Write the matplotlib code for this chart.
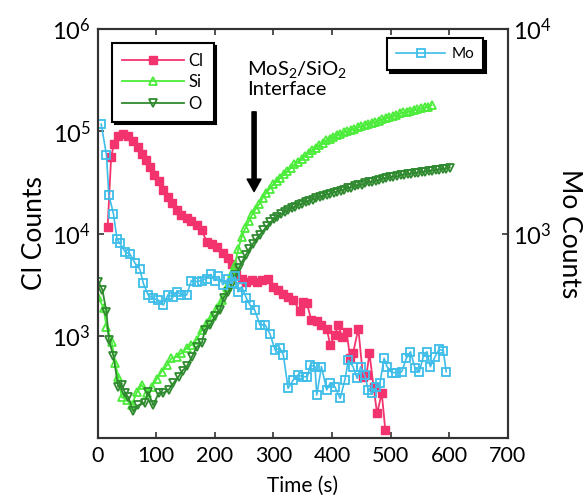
import matplotlib.pyplot as plt
import numpy as np
from matplotlib.ticker import NullLocator, FixedLocator

plt.rcParams['font.family'] = ['Lato', 'DejaVu Sans']
plt.rcParams['mathtext.fontset'] = 'custom'
plt.rcParams['mathtext.rm'] = 'Lato'
plt.rcParams['mathtext.it'] = 'Lato:italic'
plt.rcParams['mathtext.bf'] = 'Lato:bold'

# valores (exponente log10 de las cuentas)
cl_t = [17, 23, 28, 35, 44, 52, 61, 68, 75, 82, 89, 97, 104, 112, 120, 127, 135, 143, 152, 160,
        169, 178, 186, 195, 203, 214, 223, 230, 237, 246, 254, 263, 272, 280, 291, 300, 308, 317, 325, 334,
        345, 351, 357, 365, 374, 382, 391, 397, 405, 411, 417, 425, 431, 436, 445, 453, 459, 464, 471, 477,
        485, 491]
cl_exp = [4.06, 4.75, 4.88, 4.95, 4.97, 4.95, 4.90, 4.85, 4.78, 4.72, 4.65, 4.57, 4.51, 4.43, 4.36, 4.30, 4.23, 4.18, 4.15, 4.12,
          4.08, 4.03, 3.92, 3.90, 3.87, 3.81, 3.76, 3.70, 3.59, 3.56, 3.53, 3.55, 3.53, 3.55, 3.56, 3.48, 3.45, 3.41, 3.38, 3.35,
          3.24, 3.33, 3.32, 3.15, 3.14, 3.11, 3.07, 2.91, 3.01, 3.11, 2.99, 3.04, 2.78, 2.83, 3.07, 2.60, 2.62, 2.83, 2.50, 2.24,
          2.44, 2.08]

si_t = [1, 10, 15, 24, 30, 35, 41, 50, 58, 67, 75, 84, 92, 101, 109, 118, 126, 135, 143, 152,
        160, 169, 178, 186, 195, 203, 212, 220, 229,
        234, 240, 246, 252, 258, 264, 270, 276, 282, 288, 294, 300, 306, 312, 318, 324, 330, 336, 342, 348,
        354, 360, 366, 372, 378, 384, 390, 396, 402, 408, 414, 420, 426, 432, 438, 444, 450, 456, 462, 468,
        474, 480, 486, 492, 498, 504, 510, 516, 522, 528, 534, 540, 546, 552, 558, 564, 570]
si_exp = [3.38, 3.27, 3.09, 2.94, 2.73, 2.60, 2.40, 2.37, 2.32, 2.45, 2.52, 2.44, 2.50, 2.58, 2.65, 2.71, 2.78, 2.795, 2.83, 2.88,
          2.91, 2.96, 3.06, 3.12, 3.19, 3.27, 3.35, 3.48, 3.61,
          3.69, 3.85, 3.97, 4.05, 4.12, 4.19, 4.24, 4.29, 4.35, 4.40, 4.44, 4.48, 4.51, 4.545, 4.58, 4.61, 4.64, 4.675, 4.70, 4.73,
          4.76, 4.785, 4.815, 4.835, 4.865, 4.885, 4.91, 4.925, 4.945, 4.965, 4.975, 4.99, 5.00, 5.015, 5.025, 5.04, 5.05, 5.06, 5.075, 5.085,
          5.09, 5.105, 5.12, 5.13, 5.14, 5.15, 5.16, 5.175, 5.185, 5.19, 5.20, 5.21, 5.215, 5.225, 5.235, 5.24, 5.255]

o_t = [1, 8, 15, 19, 27, 35, 41, 47, 52, 61, 69, 80, 86, 95, 104, 112, 121, 129, 138, 145,
       152, 161, 169, 178, 183, 192, 200, 209, 215, 223, 229,
       235, 241, 247, 253, 259, 265, 271, 277, 283, 289, 295, 301, 307, 313, 319, 325, 331, 337, 343, 349,
       355, 361, 367, 373, 379, 385, 391, 397, 403, 409, 415, 421, 427, 433, 439, 445, 451, 457, 463, 469,
       475, 481, 487, 493, 499, 505, 511, 517, 523, 529, 535, 541, 547, 553, 559, 565, 571, 577, 583, 589,
       595, 601]
o_exp = [3.53, 3.45, 3.235, 2.96, 2.80, 2.50, 2.52, 2.44, 2.40, 2.26, 2.32, 2.34, 2.45, 2.32, 2.44, 2.44, 2.47, 2.535, 2.60, 2.66,
         2.70, 2.795, 2.89, 2.93, 3.06, 3.105, 3.19, 3.25, 3.37, 3.43, 3.51,
         3.59, 3.66, 3.73, 3.79, 3.85, 3.90, 3.95, 3.99, 4.03, 4.07, 4.11, 4.14, 4.165, 4.19, 4.21, 4.23, 4.245, 4.26, 4.28, 4.29,
         4.305, 4.32, 4.33, 4.345, 4.355, 4.365, 4.38, 4.39, 4.40, 4.41, 4.42, 4.43, 4.445, 4.45, 4.46, 4.47, 4.475, 4.49, 4.50, 4.505,
         4.515, 4.525, 4.535, 4.54, 4.55, 4.555, 4.56, 4.57, 4.575, 4.58, 4.585, 4.59, 4.595, 4.60, 4.605, 4.61, 4.615, 4.62, 4.625, 4.63,
         4.635, 4.645]

mo_t = [6, 15, 19, 27, 33, 38, 47, 55, 64, 72, 78, 86, 95, 103, 112, 120, 129, 135, 143, 152,
        160, 169, 178, 186, 193, 200, 206, 214, 223, 229, 234, 240, 246, 254, 260, 268, 277, 286, 294, 303,
        311, 317, 325, 334, 342, 350, 358, 363, 371, 374, 382, 391, 397, 405, 414, 422, 428, 436, 443, 449,
        456, 462, 469, 476, 482, 489, 494, 502, 510, 519, 527, 534, 542, 549, 556, 562, 568, 576, 583, 590,
        595]
mo_exp = [3.535, 3.384, 3.19, 3.095, 2.973, 2.952, 2.91, 2.90, 2.854, 2.825, 2.756, 2.70, 2.683, 2.675, 2.65, 2.70, 2.69, 2.715, 2.70, 2.70,
          2.77, 2.765, 2.77, 2.78, 2.80, 2.77, 2.79, 2.75, 2.78, 2.756, 2.79, 2.715, 2.74, 2.683, 2.65, 2.626, 2.553, 2.553, 2.51, 2.43,
          2.44, 2.406, 2.243, 2.284, 2.308, 2.30, 2.30, 2.357, 2.349, 2.21, 2.349, 2.235, 2.27, 2.25, 2.194, 2.284, 2.38, 2.349, 2.292, 2.349,
          2.308, 2.235, 2.219, 2.25, 2.27, 2.39, 2.349, 2.32, 2.32, 2.324, 2.39, 2.422, 2.34, 2.324, 2.398, 2.422, 2.349, 2.398, 2.434, 2.427,
          2.324]

x_ticks = [0, 100, 200, 300, 400, 500, 600, 700]

c_cl = '#f2336e'
c_si = '#4cec3a'
c_o = '#2f8a2f'
c_mo = '#3ebde9'
c_eje = '#333333'

fig = plt.figure(figsize=(5.87, 4.96), dpi=100)
ax = fig.add_axes([0.1664, 0.1169, 0.6985, 0.8246])
ax2 = ax.twinx()

ax.plot(cl_t, 10 ** np.array(cl_exp), color=c_cl, marker='s', ms=6, lw=1.3, mec=c_cl, label='Cl')
ax.plot(si_t, 10 ** np.array(si_exp), color=c_si, marker='^', ms=6, lw=1.3, mfc='none', mec=c_si, mew=1.3, label='Si')
ax.plot(o_t, 10 ** np.array(o_exp), color=c_o, marker='v', ms=6, lw=1.3, mfc='none', mec=c_o, mew=1.3, label='O')
ax2.plot(mo_t, 10 ** np.array(mo_exp), color=c_mo, marker='s', ms=5.5, lw=1.2, mfc='none', mec=c_mo, mew=1.3, label='Mo')

ax.set_yscale('log')
ax2.set_yscale('log')
ax.set_xlim(0, 700)
ax.set_ylim(1e2, 1e6)
ax2.set_ylim(1e2, 1e4)
ax.xaxis.set_major_locator(FixedLocator(x_ticks))
ax.yaxis.set_major_locator(FixedLocator([1e3, 1e4, 1e5, 1e6]))
ax2.yaxis.set_major_locator(FixedLocator([1e3, 1e4]))
ax.yaxis.set_minor_locator(NullLocator())
ax2.yaxis.set_minor_locator(NullLocator())

ax.tick_params(axis='both', which='major', direction='in', length=4.5, width=1.2, color=c_eje,
               labelsize=15.5, top=True, right=False, pad=6)
ax.tick_params(axis='y', labelsize=17, pad=5)
ax2.tick_params(axis='y', direction='in', length=4.5, width=1.2, color=c_eje, labelsize=17, pad=4)

for a in (ax, ax2):
    for sp in a.spines.values():
        sp.set_color(c_eje)
        sp.set_linewidth(1.5)

ax.set_xlabel('Time (s)', fontsize=15, labelpad=7)
ax.set_ylabel('Cl Counts', fontsize=19, labelpad=4)
ax2.set_ylabel('Mo Counts', fontsize=19, rotation=270, labelpad=22)

# anotacion de la interfaz
ax.text(255, 10 ** 5.71, 'MoS$_2$/SiO$_2$\nInterface', fontsize=14.5, ha='left', va='top', linespacing=1.1)
ax.annotate('', xy=(267, 10 ** 4.41), xytext=(267, 10 ** 5.19),
            arrowprops=dict(facecolor='black', edgecolor='black', width=3, headwidth=10, headlength=9, shrink=0))

leg1 = ax.legend(loc='upper left', bbox_to_anchor=(0.035, 0.966), borderaxespad=0, fontsize=12,
                 handlelength=3.7, labelspacing=0.32, handletextpad=0.3, borderpad=0.6,
                 fancybox=False, shadow={'color': 'black', 'alpha': 1}, framealpha=1, edgecolor='black')
leg1.get_frame().set_linewidth(1.5)

leg2 = ax2.legend(loc='upper right', bbox_to_anchor=(0.94, 0.978), borderaxespad=0, fontsize=11,
                  handlelength=3.2, handletextpad=0.4, borderpad=0.6,
                  fancybox=False, shadow={'color': 'black', 'alpha': 1}, framealpha=1, edgecolor='black')
leg2.get_frame().set_linewidth(1.5)

fig.savefig('out.png', dpi=100)
